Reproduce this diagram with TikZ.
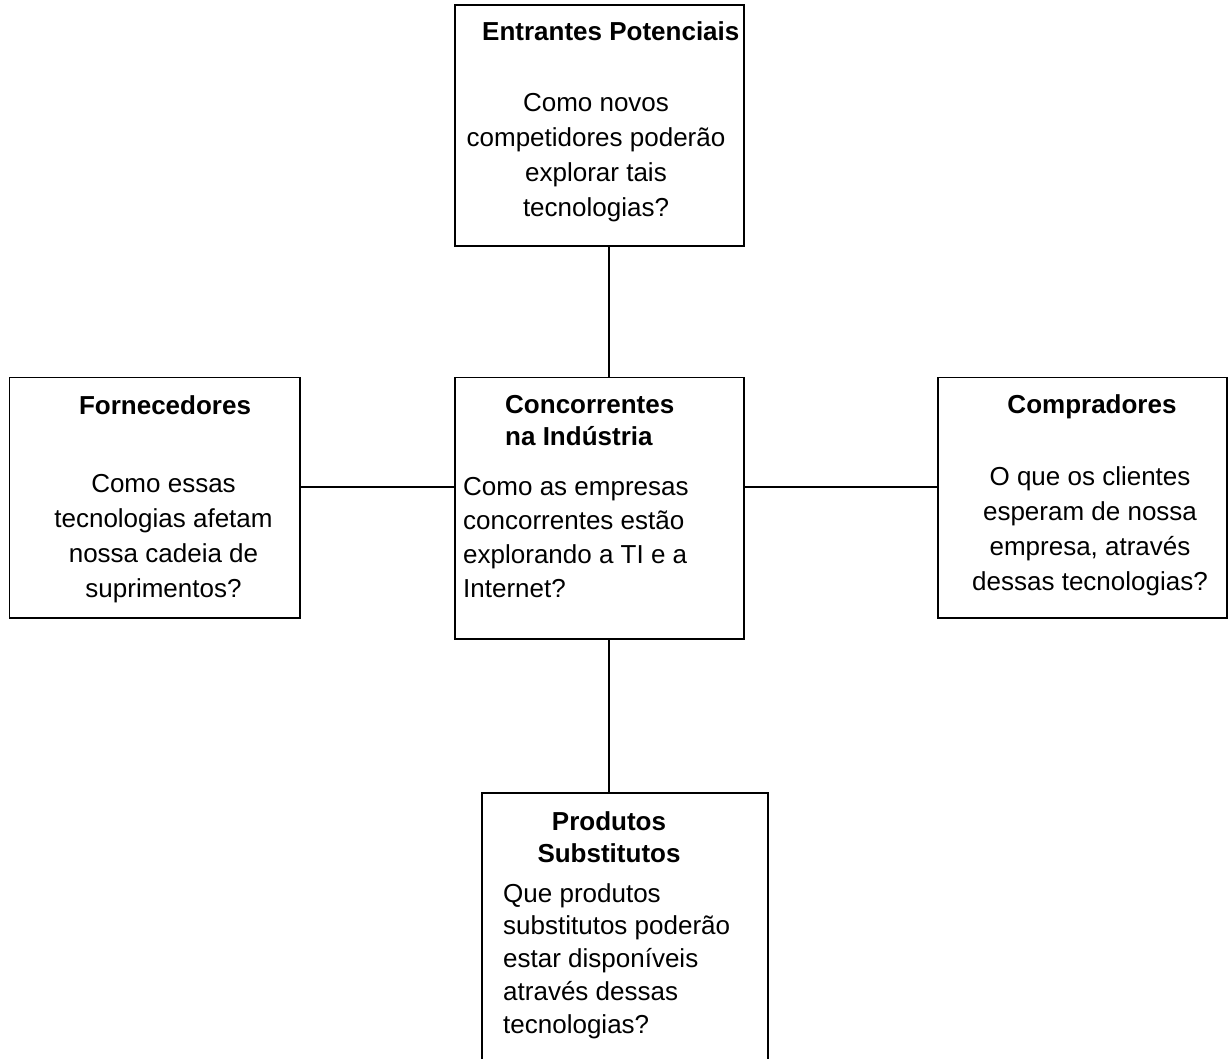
\documentclass[tikz,border=0pt]{standalone}
\usepackage{fontspec}
\setmainfont{Liberation Sans}
\begin{document}
\begin{tikzpicture}[x=1pt,y=-1pt,
  box/.style={draw=black, line width=1.5pt, fill=none, inner sep=0pt, outer sep=0pt, anchor=north west},
  ttl/.style={inner sep=0pt, font=\bfseries\fontsize{26}{32}\selectfont},
  body/.style={inner sep=0pt, font=\fontsize{26}{35}\selectfont},
  link/.style={draw=black, line width=1.5pt}]
\useasboundingbox (0,0) rectangle (1230,1058);
\fill[white] (0,0) rectangle (1230,1058);
% boxes
\node[box, minimum width=289pt, minimum height=241pt] (top) at (455,5) {};
\node[box, minimum width=290.5pt, minimum height=240.5pt] (left) at (9.5,377.5) {};
\node[box, minimum width=289pt, minimum height=261.5pt] (center) at (455,377.5) {};
\node[box, minimum width=289pt, minimum height=240.5pt] (right) at (938,377.5) {};
\node[box, minimum width=286pt, minimum height=290pt] (bottom) at (482,793) {};
% connector guides
\coordinate (vx) at (609,0);
\coordinate (hy) at (0,487);
\draw[link] (top.south -| vx) -- (center.north -| vx);
\draw[link] (center.south -| vx) -- (bottom.north -| vx);
\draw[link] (left.east |- hy) -- (center.west |- hy);
\draw[link] (center.east |- hy) -- (right.west |- hy);
% texts (multi-line nodes: base anchor = last line's baseline)
\node[ttl, anchor=base west] (ttop) at (482,40) {Entrantes Potenciais};
\node[body, align=center, anchor=base] (btop) at (596,216) {Como novos\\competidores poderão\\explorar tais\\tecnologias?};
\node[ttl, anchor=base] (tleft) at (165,414) {Fornecedores};
\node[body, align=center, anchor=base, font=\fontsize{26}{34.7}\selectfont] (bleft) at (163.5,597) {Como essas\\tecnologias afetam\\nossa cadeia de\\suprimentos?};
\node[ttl, align=left, anchor=base west] (tcenter) at (505,445) {Concorrentes\\na Indústria};
\node[body, align=left, anchor=base west, font=\fontsize{26}{33.7}\selectfont] (bcenter) at (463,597) {Como as empresas\\concorrentes estão\\explorando a TI e a\\Internet?};
\node[ttl, anchor=base] (tright) at (1092,413) {Compradores};
\node[body, align=center, anchor=base] (bright) at (1090,590) {O que os clientes\\esperam de nossa\\empresa, através\\dessas tecnologias?};
\node[ttl, align=center, anchor=base] (tbottom) at (609,862) {Produtos\\Substitutos};
\node[body, align=left, anchor=base west, font=\fontsize{26}{32.75}\selectfont] (bbottom) at (503,1033) {Que produtos\\substitutos poderão\\estar disponíveis\\através dessas\\tecnologias?};
\end{tikzpicture}
\end{document}
